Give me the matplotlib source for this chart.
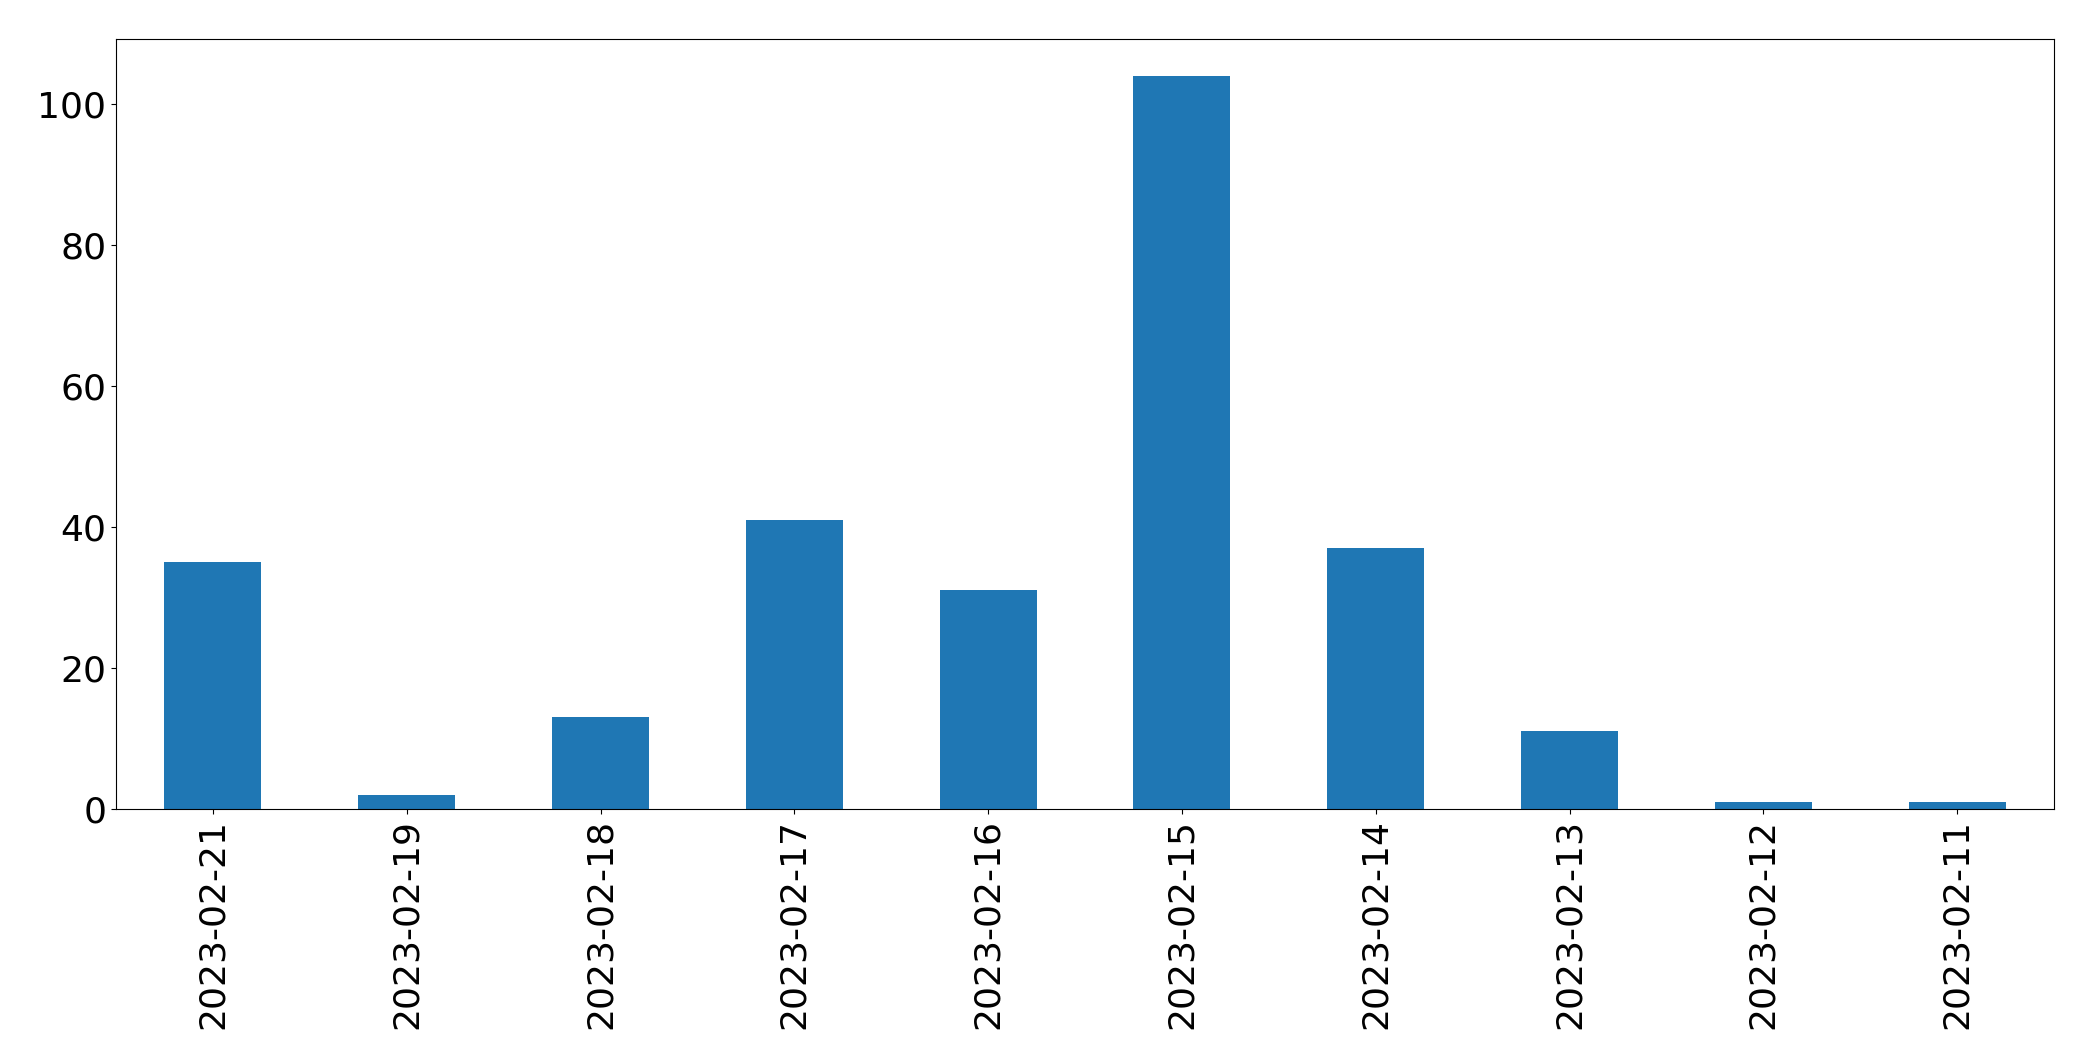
import pandas as pd
import matplotlib
matplotlib.use("Agg")
import matplotlib.pyplot as plt

dates = ["2023-02-21", "2023-02-19", "2023-02-18", "2023-02-17", "2023-02-16",
         "2023-02-15", "2023-02-14", "2023-02-13", "2023-02-12", "2023-02-11"]
counts = [35, 2, 13, 41, 31, 104, 37, 11, 1, 1]

df = pd.DataFrame({"count": counts}, index=dates)

fig = plt.figure(figsize=(20.93, 10.61), dpi=100)
ax = fig.add_axes([116 / 2093, 1 - 809 / 1061, (2054 - 116) / 2093, (809 - 39) / 1061])
df["count"].plot.bar(ax=ax, color="#1f77b4", fontsize=26)
ax.set_xlabel("")

fig.savefig("out.png", dpi=100)
